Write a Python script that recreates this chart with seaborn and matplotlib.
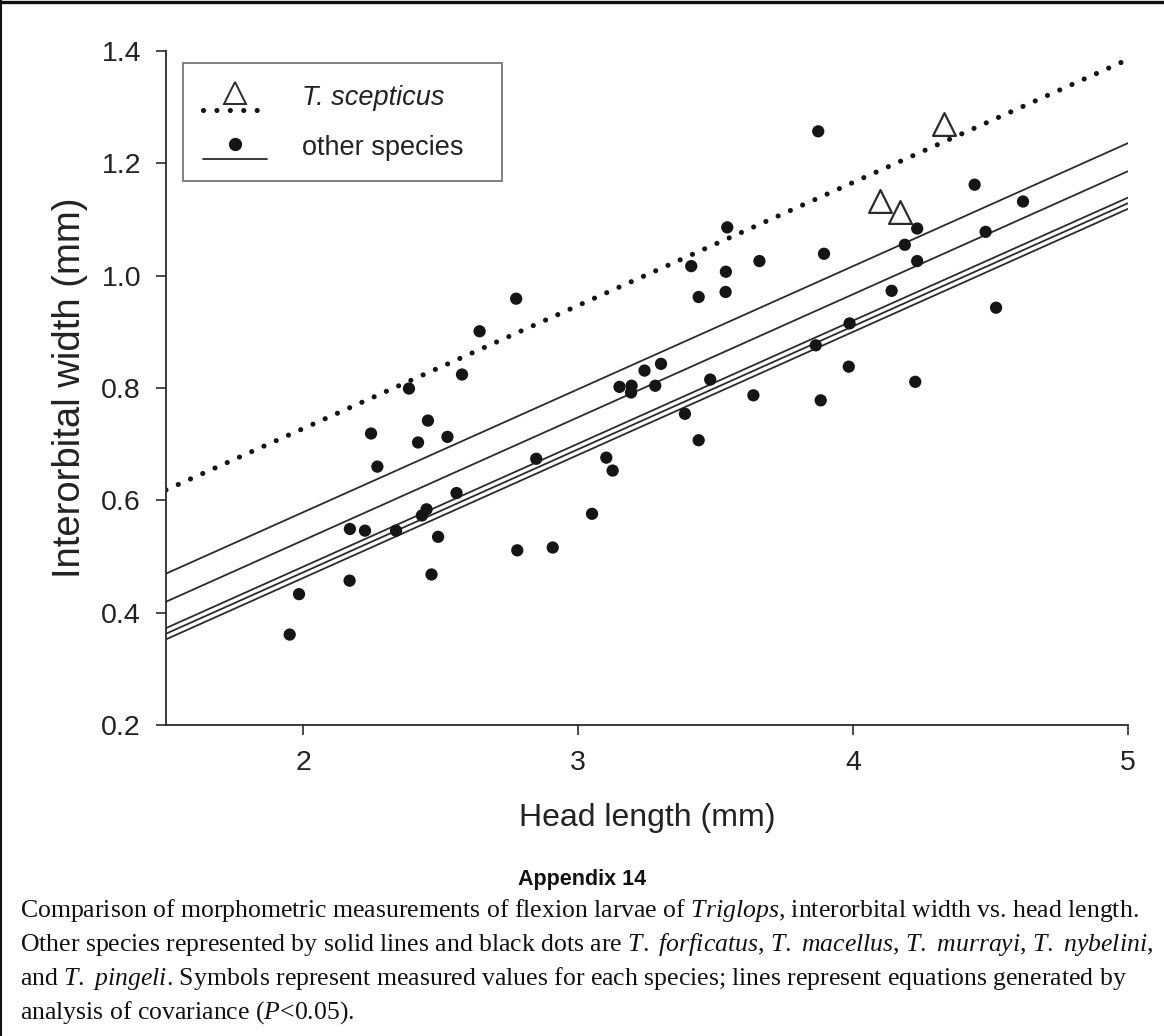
import numpy as np
import pandas as pd
import matplotlib
matplotlib.use("Agg")
import matplotlib.pyplot as plt
import seaborn as sns
from matplotlib.lines import Line2D
from matplotlib.legend_handler import HandlerBase

# ---------------- data ----------------
other_x = [2.774, 2.641, 2.577, 2.384, 2.453, 2.246, 2.417, 2.524, 2.847,
           2.269, 2.557, 2.448, 2.431, 2.169, 2.224, 2.337, 2.490, 2.778,
           2.907, 2.466, 2.168, 1.984, 1.950,
           3.873, 4.442, 4.618, 3.542, 4.233, 4.188, 4.482, 3.894, 4.233,
           3.411, 3.537, 3.659, 3.438, 3.536, 4.140, 4.520, 3.987, 3.864,
           3.241, 3.301, 3.150, 3.194, 3.192, 3.280, 3.480, 3.984, 4.226,
           3.637, 3.882, 3.388, 3.438, 3.102, 3.125, 3.050]
other_y = [0.959, 0.901, 0.824, 0.799, 0.742, 0.719, 0.703, 0.713, 0.674,
           0.660, 0.613, 0.584, 0.573, 0.549, 0.546, 0.546, 0.535, 0.511,
           0.516, 0.468, 0.457, 0.433, 0.361,
           1.257, 1.162, 1.132, 1.086, 1.084, 1.055, 1.078, 1.039, 1.026,
           1.017, 1.007, 1.026, 0.962, 0.971, 0.973, 0.943, 0.915, 0.876,
           0.831, 0.843, 0.802, 0.804, 0.792, 0.804, 0.815, 0.838, 0.811,
           0.787, 0.778, 0.754, 0.707, 0.676, 0.653, 0.576]
scep_x = [4.098, 4.171, 4.329]
scep_y = [1.133, 1.113, 1.270]

common_slope = 0.219
other_intercepts = [0.141, 0.091, 0.044, 0.034, 0.024]
scep_intercept = 0.290
x_span = [1.5, 5.0]

x_ticks = [2, 3, 4, 5]
y_ticks = [0.2, 0.4, 0.6, 0.8, 1.0, 1.2, 1.4]
y_ticklabels = ["0.2", "0.4", "0.6", "0.8", "1.0", "1.2", "1.4"]

legend_labels = ["T. scepticus", "other species"]
x_label = "Head length (mm)"
y_label = "Interorbital width (mm)"
appendix_title = "Appendix 14"
caption_lines = [
    r"Comparison of morphometric measurements of flexion larvae of $\mathit{Triglops}$, interorbital width vs. head length.",
    r"Other species represented by solid lines and black dots are $\mathit{T.}$ $\mathit{forficatus}$, $\mathit{T.}$ $\mathit{macellus}$, $\mathit{T.}$ $\mathit{murrayi}$, $\mathit{T.}$ $\mathit{nybelini}$,",
    r"and $\mathit{T.}$ $\mathit{pingeli}$. Symbols represent measured values for each species; lines represent equations generated by",
    r"analysis of covariance ($\mathit{P}$<0.05).",
]

# ---------------- style ----------------
sns.set_theme(style="ticks")
SANS = ["Liberation Sans", "DejaVu Sans"]
plt.rcParams["font.family"] = SANS
plt.rcParams["mathtext.fontset"] = "custom"
plt.rcParams["mathtext.rm"] = "Liberation Serif"
plt.rcParams["mathtext.it"] = "Liberation Serif:italic"

INK = "#2b2b2b"
DOT = "#151515"
TXT = "#222222"

fig = plt.figure(figsize=(11.64, 10.36), dpi=100)
fig.patch.set_facecolor("white")
ax = fig.add_axes([166 / 1164, 1 - 725 / 1036, (1128 - 166) / 1164, (725 - 51) / 1036])
ax.set_facecolor("white")

# regression lines
rows = []
for i, b0 in enumerate(other_intercepts):
    for xv in x_span:
        rows.append({"line": i, "x": xv, "y": b0 + common_slope * xv})
lines_df = pd.DataFrame(rows)
sns.lineplot(data=lines_df, x="x", y="y", units="line", estimator=None,
             color=INK, linewidth=1.3, ax=ax, legend=False)

scep_df = pd.DataFrame({"x": x_span, "y": [scep_intercept + common_slope * xv for xv in x_span]})
dotted = (0, (0.01, 2.6))
sns.lineplot(data=scep_df, x="x", y="y", color=DOT, linewidth=3.7,
             linestyle=dotted, dash_capstyle="round", ax=ax, legend=False)

# points
sns.scatterplot(x=other_x, y=other_y, color=DOT, s=78, edgecolor="none", ax=ax, zorder=3)
sns.scatterplot(x=scep_x, y=scep_y, marker="^", s=270, facecolor="white",
                edgecolor=INK, linewidth=1.6, ax=ax, zorder=4)

ax.set_xlim(1.5, 5.0)
ax.set_ylim(0.2, 1.4)
ax.set_xticks(x_ticks)
ax.set_xticklabels([str(t) for t in x_ticks])
ax.set_yticks(y_ticks)
ax.set_yticklabels(y_ticklabels)
sns.despine(ax=ax)
for sp in ["left", "bottom"]:
    ax.spines[sp].set_color(INK)
    ax.spines[sp].set_linewidth(1.3)
ax.tick_params(axis="both", direction="out", length=7, width=1.2, color=INK,
               labelsize=20.5, labelcolor=TXT)
ax.tick_params(axis="x", pad=11)
ax.tick_params(axis="y", pad=11)
ax.set_xlabel(x_label, fontsize=23, color=TXT)
ax.set_ylabel(y_label, fontsize=27.5, color=TXT)
ax.xaxis.set_label_coords(0.5, (725 - 803) / 674)
ax.yaxis.set_label_coords((88 - 166) / 962, 0.5)


# legend with marker stacked above line
class StackedHandler(HandlerBase):
    def __init__(self, marker_kw, line_kw, line_off):
        super().__init__()
        self.marker_kw = marker_kw
        self.line_kw = line_kw
        self.line_off = line_off

    def create_artists(self, legend, orig_handle, xdescent, ydescent,
                       width, height, fontsize, trans):
        x0 = -xdescent
        x1 = x0 + width
        yc = -ydescent + 0.5 * height
        yl = yc - self.line_off * height
        ym = yc + 0.08 * height
        ln = Line2D([x0, x1], [yl, yl], transform=trans, **self.line_kw)
        mk = Line2D([x0 + 0.5 * width], [ym], linestyle="none", transform=trans, **self.marker_kw)
        return [ln, mk]


h_scep = Line2D([], [])
h_other = Line2D([], [])
handler_map = {
    h_scep: StackedHandler(
        dict(marker="^", markersize=15.5, markerfacecolor="white", markeredgecolor=INK, markeredgewidth=1.4),
        dict(color=DOT, linewidth=3.7, linestyle=dotted, dash_capstyle="round"), 0.6),
    h_other: StackedHandler(
        dict(marker="o", markersize=8.5, markerfacecolor=DOT, markeredgecolor=DOT),
        dict(color=INK, linewidth=1.3), 0.55),
}
ax_w, ax_h = 962.0, 674.0
leg = ax.legend([h_scep, h_other], legend_labels, handler_map=handler_map,
                loc="upper left", mode="expand",
                bbox_to_anchor=(17 / ax_w, 1 - 12 / ax_h, (502 - 183) / ax_w, 0.0),
                borderaxespad=0, frameon=True, fancybox=False, fontsize=19.5,
                handlelength=2.35, handleheight=1.0, handletextpad=1.3,
                labelspacing=0.85, borderpad=0.75)
leg.get_frame().set_edgecolor("#555555")
leg.get_frame().set_linewidth(1.3)
leg.get_texts()[0].set_fontstyle("italic")
for t in leg.get_texts():
    t.set_color(TXT)

# page frame (top and left rules)
fig.add_artist(Line2D([0, 1], [1 - 1.5 / 1036, 1 - 1.5 / 1036], transform=fig.transFigure,
                      color="#111111", linewidth=2.4))
fig.add_artist(Line2D([1 / 1164, 1 / 1164], [0, 1], transform=fig.transFigure,
                      color="#111111", linewidth=1.5))

# caption
fig.text(582 / 1164, 1 - 880 / 1036, appendix_title, ha="center", va="center",
         fontsize=15.5, fontweight="bold", family=["Liberation Sans Narrow", "Liberation Sans"],
         color="#111111")
cap_y = [911, 945, 979, 1013]
for yy, line in zip(cap_y, caption_lines):
    fig.text(20 / 1164, 1 - yy / 1036, line, ha="left", va="center",
             fontsize=18.5, family=["Liberation Serif"], color="#111111")

fig.savefig("out.png", dpi=100, facecolor="white")
